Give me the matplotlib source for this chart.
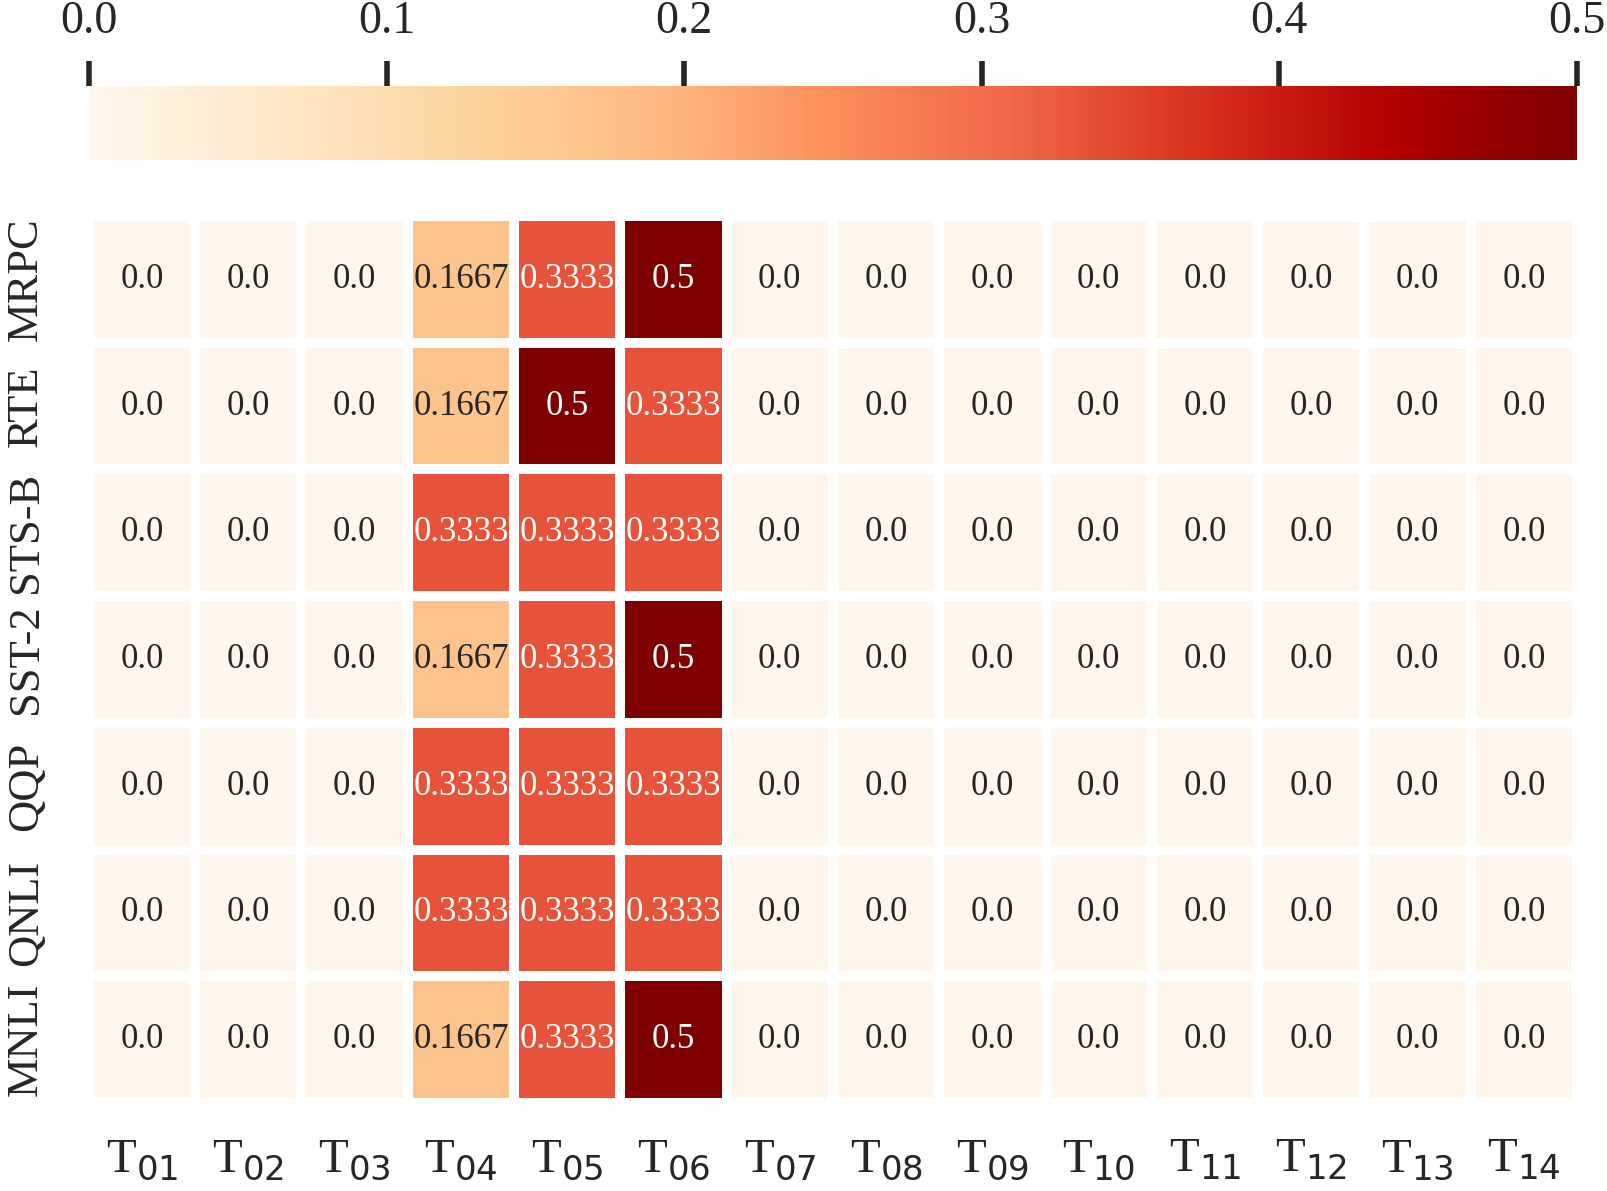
import numpy as np
import matplotlib
matplotlib.use('Agg')
import matplotlib.pyplot as plt
import seaborn as sns

tasks = ['MRPC', 'RTE', 'STS-B', 'SST-2', 'QQP', 'QNLI', 'MNLI']
cols = ['T$_{%02d}$' % i for i in range(1, 15)]

# columns T04, T05, T06 carry the weight, everything else is zero
t04 = [0.1667, 0.1667, 0.3333, 0.1667, 0.3333, 0.3333, 0.1667]
t05 = [0.3333, 0.5, 0.3333, 0.3333, 0.3333, 0.3333, 0.3333]
t06 = [0.5, 0.3333, 0.3333, 0.5, 0.3333, 0.3333, 0.5]

vals = np.zeros((len(tasks), len(cols)))
vals[:, 3] = t04
vals[:, 4] = t05
vals[:, 5] = t06
labels = np.array([[str(v) for v in row] for row in vals])

sns.set_theme(style='white')
plt.rcParams['font.family'] = ['Liberation Serif', 'DejaVu Serif']
plt.rcParams['mathtext.fontset'] = 'dejavusans'

fig = plt.figure(figsize=(16.08, 11.91), dpi=100)
ax = fig.add_axes([0.0553, 0.0739, 0.9254, 0.7448])
cax = fig.add_axes([0.0553, 0.8657, 0.9254, 0.0621])

sns.heatmap(vals, ax=ax, cbar_ax=cax, cmap='OrRd', vmin=0, vmax=0.5,
            annot=labels, fmt='', annot_kws={'size': 25},
            linewidths=7, linecolor='white',
            cbar_kws={'orientation': 'horizontal'})

ax.set_xticklabels(cols, fontsize=35)
ax.set_yticklabels(tasks, fontsize=32, rotation=90, va='center')
ax.tick_params(axis='x', pad=25, length=0)
ax.tick_params(axis='y', pad=31, length=0)

cax.xaxis.set_ticks_position('top')
cax.set_xticks([0.0, 0.1, 0.2, 0.3, 0.4, 0.5])
cax.tick_params(axis='x', labelsize=33, length=18, width=4, pad=13,
                color='#262626', top=True, bottom=False)
for s in cax.spines.values():
    s.set_visible(False)

fig.savefig('out.png', dpi=100)
